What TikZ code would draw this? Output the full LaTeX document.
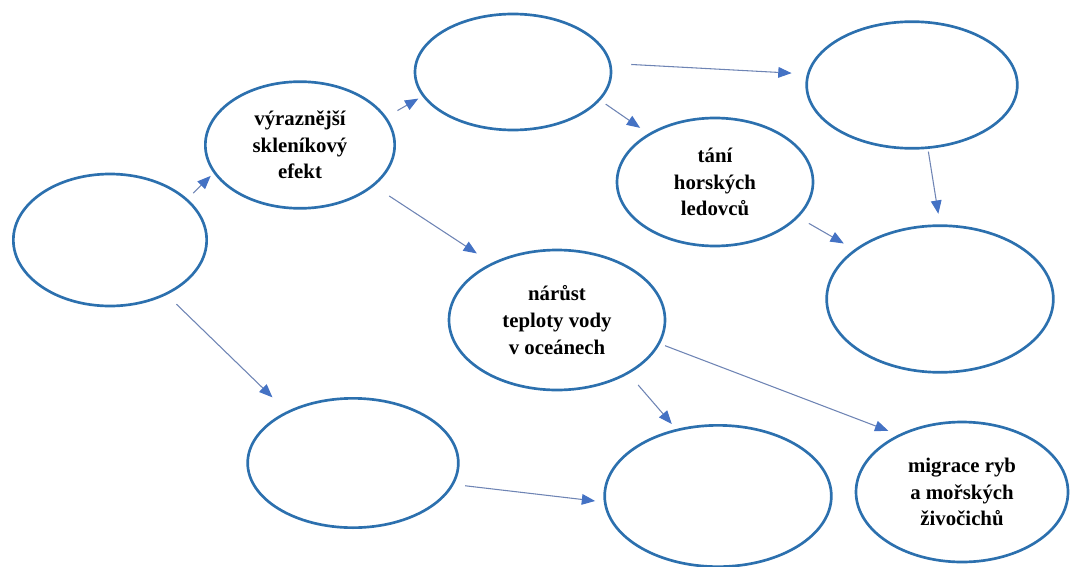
\documentclass[tikz,border=0pt]{standalone}
\usepackage{fontspec}
\setmainfont{Liberation Serif}
\usetikzlibrary{shapes.geometric,arrows.meta}
\definecolor{ovblue}{HTML}{2C70AE}
\definecolor{arline}{HTML}{6E84B4}
\definecolor{arhead}{HTML}{4472C4}
\tikzset{ov/.style = {ellipse, draw=ovblue, line width=2pt, inner sep=0pt, align=center,
                      font=\bfseries\fontsize{15.6}{20}\selectfont},
         ar/.style = {draw=arline, line width=0.8pt,
                      -{Triangle[length=10pt, width=8pt, color=arhead, fill=arhead]}}}

\begin{document}
\begin{tikzpicture}[x=0.75pt, y=-0.75pt]
    \useasboundingbox (0,0) rectangle (1070,567);
    \node[ov, minimum width=145pt, minimum height=99pt] (a) at (110,240) {};
    \node[ov, minimum width=142pt, minimum height=95pt] (b) at (300,145) {výraznější\\skleníkový\\efekt};
    \node[ov, minimum width=147pt, minimum height=87pt] (c) at (513,72) {};
    \node[ov, minimum width=158pt, minimum height=95pt] (d) at (912,85) {};
    \node[ov, minimum width=147pt, minimum height=96pt] (e) at (715,182) {tání\\horských\\ledovců};
    \node[ov, minimum width=170pt, minimum height=110pt] (f) at (940,299) {};
    \node[ov, minimum width=162pt, minimum height=105pt] (g) at (557,320) {nárůst\\teploty vody\\v oceánech};
    \node[ov, minimum width=158pt, minimum height=97pt] (h) at (353,463) {};
    \node[ov, minimum width=170pt, minimum height=106pt] (i) at (718,496) {};
    \node[ov, minimum width=159pt, minimum height=105pt] (j) at (962,492) {migrace ryb\\a mořských\\živočichů};
    \draw[ar, shorten <=6pt,  shorten >=3pt]    (a.28.5)  to (b.198.8);
    \draw[ar, shorten <=10pt, shorten >=15pt]   (a.-44.1) to (h.142.1);
    \draw[ar, shorten <=9.5pt, shorten >=3.5pt] (b.18.3)  to (c.195.6);
    \draw[ar, shorten <=13.5pt, shorten >=13pt] (b.-29.6) to (g.139.7);
    \draw[ar, shorten <=15pt, shorten >=11.5pt] (c.5.9)   to (d.174.2);
    \draw[ar, shorten <=5pt,  shorten >=7.5pt]  (c.-18.6) to (e.144.4);
    \draw[ar, shorten <=2pt,  shorten >=8pt]    (d.-76.2) to (f.90);
    \draw[ar, shorten <=9pt,  shorten >=9pt]    (e.-23.3) to (f.150.4);
    \draw[ar, shorten <=11pt, shorten >=5pt]    (g.-37.9) to (i.122.6);
    \draw[ar, shorten <=4pt,  shorten >=8pt]    (g.-13.2) to (j.138.8);
    \draw[ar, shorten <=8.5pt, shorten >=6.5pt] (h.-12.3) to (i.183.3);
\end{tikzpicture}
\end{document}
